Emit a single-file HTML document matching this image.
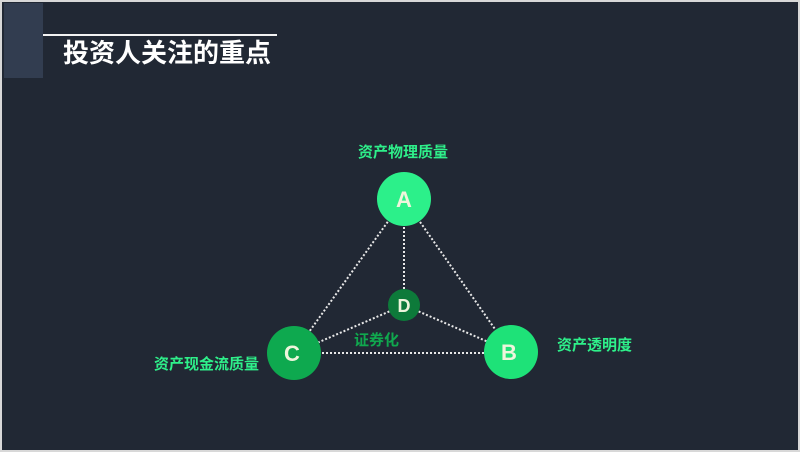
<!DOCTYPE html>
<html><head><meta charset="utf-8"><style>
body{margin:0;width:800px;height:452px;overflow:hidden;background:#d8d8d8;font-family:"Liberation Sans","Noto Sans CJK SC",sans-serif}
#s{position:absolute;left:2px;top:2px;width:796px;height:448px;background:#212834}
.t{position:absolute;white-space:nowrap;font-weight:bold}
</style></head><body>
<div id="s"></div>
<div style="position:absolute;left:4px;top:3px;width:39px;height:75px;background:#323d50"></div>
<div style="position:absolute;left:43px;top:34px;width:234px;height:2px;background:#f2f2f2"></div>
<div class="t" style="left:63px;top:38px;font-size:26px;color:#fff;line-height:30px">投资人关注的重点</div>
<svg style="position:absolute;left:0;top:0" width="800" height="452">
<g stroke="#e8e8e8" stroke-width="2" stroke-dasharray="2 2" fill="none">
<line x1="404" y1="199" x2="294" y2="353"/>
<line x1="404" y1="199" x2="511" y2="352"/>
<line x1="404" y1="199" x2="404" y2="305"/>
<line x1="294" y1="353" x2="511" y2="353"/>
<line x1="404" y1="305" x2="294" y2="353"/>
<line x1="404" y1="305" x2="511" y2="352"/>
</g>
<circle cx="404" cy="199" r="27" fill="#2cf08a"/>
<circle cx="404" cy="305" r="16" fill="#0d7a3a"/>
<circle cx="294" cy="353" r="27" fill="#0ea94f"/>
<circle cx="511" cy="352" r="27" fill="#1ee278"/>
<g font-family="Liberation Sans,sans-serif" font-weight="bold" fill="#eef5dc" text-anchor="middle">
<text x="404" y="207" font-size="22">A</text>
<text x="404" y="312" font-size="18">D</text>
<text x="292" y="361" font-size="22">C</text>
<text x="509" y="360" font-size="22">B</text>
</g>
</svg>
<div class="t" style="left:358px;top:141px;font-size:15px;color:#2ef08a">资产物理质量</div>
<div class="t" style="left:557px;top:334px;font-size:15px;color:#2ef08a">资产透明度</div>
<div class="t" style="left:154px;top:353px;font-size:15px;color:#2ef08a">资产现金流质量</div>
<div class="t" style="left:354px;top:329px;font-size:15px;color:#10a84e">证券化</div>
</body></html>
